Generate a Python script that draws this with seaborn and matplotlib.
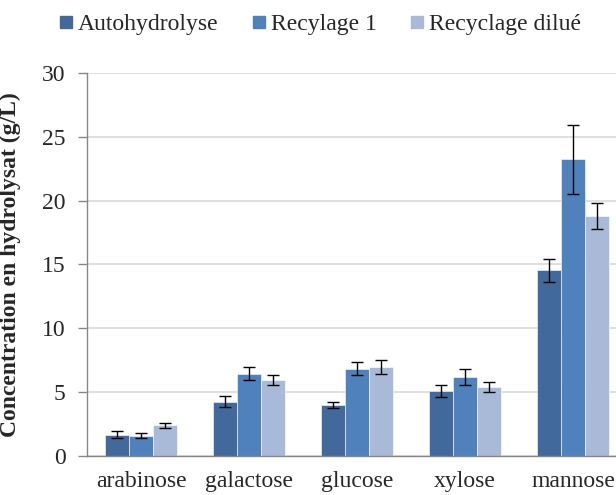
import matplotlib
matplotlib.use("Agg")
import matplotlib.pyplot as plt
import seaborn as sns
import pandas as pd
import numpy as np

categories = ["arabinose", "galactose", "glucose", "xylose", "mannose"]
series = ["Autohydrolyse", "Recylage 1", "Recyclage dilué"]
auto_vals = [1.64, 4.23, 3.97, 5.09, 14.54]
rec1_vals = [1.56, 6.43, 6.80, 6.17, 23.25]
dil_vals = [2.37, 5.94, 6.93, 5.36, 18.81]
auto_err = [0.25, 0.42, 0.25, 0.48, 0.92]
rec1_err = [0.20, 0.48, 0.51, 0.61, 2.72]
dil_err = [0.22, 0.40, 0.56, 0.39, 1.05]
colors = ["#41699C", "#4F81BD", "#A9BAD8"]

values = [auto_vals, rec1_vals, dil_vals]
errors = [auto_err, rec1_err, dil_err]

df = pd.DataFrame({
    "sugar": np.repeat([categories], 3, axis=0).ravel(),
    "series": np.repeat(series, len(categories)),
    "value": np.concatenate(values),
})

sns.set_theme(style="white")
plt.rcParams["font.family"] = ["Liberation Serif", "DejaVu Serif"]

fig = plt.figure(figsize=(6.16, 4.95), dpi=100)
ax = fig.add_axes([87 / 616, 1 - 455.5 / 495, 540 / 616, (455.5 - 73.4) / 495])

sns.barplot(data=df, x="sugar", y="value", hue="series", order=categories,
            hue_order=series, palette=colors, width=0.667, errorbar=None,
            edgecolor="white", linewidth=0.4, saturation=1, ax=ax, zorder=2)

for cont, errs in zip(ax.containers, errors):
    xs = [b.get_x() + b.get_width() / 2 for b in cont]
    hs = [b.get_height() for b in cont]
    ax.errorbar(xs, hs, yerr=errs, fmt="none", ecolor="black", elinewidth=1.0,
                capsize=4.5, capthick=1.0, zorder=3)

ax.set_xlim(-0.5, 4.5)
ax.set_ylim(0, 30)
ax.set_yticks(range(0, 31, 5))
ax.yaxis.grid(True, color="#D9D9D9", linewidth=1.2, zorder=0)
ax.set_axisbelow(True)

ax.set_xticks(range(len(categories)))
ax.set_xticklabels(categories, fontsize=17)
ax.set_xticks(np.arange(-0.5, 4.6, 1), minor=True)
ax.tick_params(axis="x", which="major", length=0, pad=11)
ax.tick_params(axis="x", which="minor", length=4.5, width=1, color="#868686", direction="out")
ax.tick_params(axis="y", which="major", length=6.5, width=1, color="#868686",
               direction="out", labelsize=17, pad=9, left=True)

for s in ["top", "right"]:
    ax.spines[s].set_visible(False)
for s in ["left", "bottom"]:
    ax.spines[s].set_color("#868686")
    ax.spines[s].set_linewidth(1)

ax.set_xlabel("")
ax.set_ylabel("Concentration en hydrolysat (g/L)", fontsize=17, fontweight="bold")
ax.yaxis.set_label_coords((21 - 87) / 540, 0.5)

ax.get_legend().remove()
handles = [plt.Line2D([], [], marker="s", linestyle="none", markersize=8.6,
                      markerfacecolor=c, markeredgecolor=c) for c in colors]
fig.legend(handles, series, loc="center left", bbox_to_anchor=(57.7 / 616, 1 - 24 / 495),
           ncol=3, frameon=False, fontsize=17, handletextpad=0.15, columnspacing=1.36,
           handlelength=0.7, borderaxespad=0, borderpad=0)

fig.savefig("out.png", dpi=100)
